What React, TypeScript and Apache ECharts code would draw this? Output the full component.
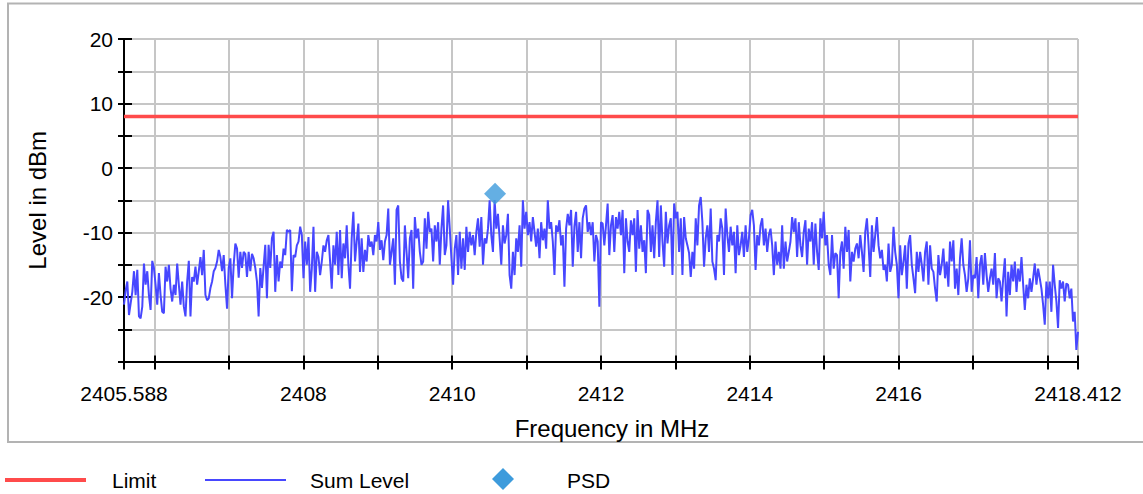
import React, { useEffect, useRef } from "react";
import * as echarts from "echarts";

const F_START = 2405.588;
const F_END = 2418.412;
const LIMIT_LEVEL = 8;
const PSD_FREQ = 2410.576;
const PSD_LEVEL = -4.0;

const xTickValues = [2405.588, 2406, 2407, 2408, 2409, 2410, 2411, 2412, 2413, 2414, 2415, 2416, 2417, 2418, 2418.412];
const xLabelValues = [2405.588, 2408, 2410, 2412, 2414, 2416, 2418.412];

const levelsA = [
  -21.2, -19, -17.6, -22.8, -21, -19.2, -16, -19.7, -15.8, -23,
  -23.3, -21.5, -14.8, -18.1, -16, -19.7, -22, -14.4, -15.5, -18.1,
  -21.2, -16.3, -19.7, -22.3, -22.5, -15.3, -17.6, -15, -18.7, -20.7,
  -18.1, -19.7, -14.8, -18.1, -21.2, -17.6, -21.5, -23, -17.6, -14.4,
  -23, -16.9, -17.6, -15.3, -18.1, -16, -13.8, -16.6, -12.7, -19.7,
  -20.5, -20.2, -18.6, -17.6, -16, -15.5, -14.5, -12.7, -13.8, -16,
  -13.5, -18.1, -21.8, -15.5, -14, -20.2, -15, -11.7, -12.5, -17,
  -13, -15.5, -13, -13.3, -16.9, -13, -16, -13.3, -14, -15.5,
  -17.6, -23, -15.5, -18.6, -15.3, -11.9, -20.2, -11.9, -15.5, -10.9,
  -9.9, -19.2, -13.5, -17.6, -14.5, -15.5,
];
const levelsB = [
  -12.5, -13.5, -9.6, -9.9, -9.6, -19.1, -13.5, -13.8, -12, -11.4,
  -9.1, -10.4, -17.1, -11.4, -15, -10.7, -19.2, -15.6, -9.1, -19.2,
  -13, -13.8, -16.6, -14.5, -12, -13, -11.2, -10.4, -14.5, -18.7,
  -12, -15, -9.9, -16.6, -9.6, -17.1, -11.7, -14, -8.9, -15,
  -18.7, -10.9, -6.8, -14.5, -11.4, -8.6, -16.1, -10.9, -16.1, -12.7,
  -14.5, -10.4, -12.2, -11.4, -13.5, -10.4, -11.4, -8.4, -12.7, -11.2,
  -14.3, -11.4, -10.4, -6.3, -15, -13, -10.9, -18.1, -6.5, -5.8,
  -14.5, -17.1, -17.6, -8.9, -13, -17.1, -10.9, -9.6, -18.7, -7.6,
  -10.9, -9.4, -13, -15, -14.5, -7.8, -12.5, -6.8, -9.9, -9.4,
  -14.5, -8.9, -11.4, -8.4, -15, -9.4,
];
const levelsC = [
  -5.8, -13.5, -12, -5, -9.4, -14, -18.1, -12.5, -10.4, -16.6,
  -9.9, -15.6, -10.9, -15.8, -9.1, -13, -9.9, -12, -10.4, -13.5,
  -9.9, -7.8, -12.2, -7.6, -15, -10.9, -11.7, -9.4, -5, -10.4,
  -13, -5, -9.4, -7.1, -10.9, -15, -8.9, -11.7, -10.4, -7.1,
  -16.6, -18.7, -13, -16.6, -10.9, -13, -8.9, -15.3, -5, -9.4,
  -6.8, -10.4, -8.4, -11.4, -7.6, -9.9, -12.2, -9.4, -14, -8.4,
  -11.2, -9.4, -12.5, -5, -9.4, -8.4, -11.4, -16.6, -8.9, -9.9,
  -8.1, -12, -10.4, -18.4, -9.4, -7.1, -8.9, -6.5, -15.3, -9.1,
  -6.8, -13, -8.4, -14, -7.8, -6.3, -5.8, -9.9, -8.4, -10.4,
  -8.4, -14.5, -10.4, -11.4, -21.5, -8.4,
];
const levelsD = [
  -8.6, -12, -8.9, -5.5, -13.5, -8.9, -7.3, -13, -7.6, -9.4,
  -6.8, -10.4, -6.5, -16.3, -7.8, -11.4, -13, -8.1, -10.4, -7.8,
  -16.1, -6.5, -12.5, -8.9, -13, -11.2, -16.3, -6.5, -7.3, -13,
  -8.9, -14, -8.4, -5, -13.8, -5.8, -11.4, -15.3, -6.8, -11.7,
  -8.9, -7.8, -16.6, -5.5, -7.8, -6.8, -13, -7.8, -16.6, -7.6,
  -10.9, -12, -13.2, -16.9, -13, -15.6, -7.8, -12, -5.8, -4.5,
  -8.4, -15.3, -10.9, -8.9, -13, -6.3, -14.5, -15.6, -17.4, -10.4,
  -11.4, -7.8, -9.4, -16.6, -6.3, -10.4, -13, -9.1, -12, -9.9,
  -16.3, -8.9, -13.5, -12, -9.9, -13.8, -8.9, -13, -10.9, -7.3,
  -6.5, -8.9, -15.8, -10.4, -12, -8.9,
];
const levelsE = [
  -7.8, -12, -9.4, -13, -10.4, -9.4, -12, -16.6, -11.4, -15,
  -13, -15.6, -8.9, -15.6, -11.4, -14.5, -13, -11.4, -7.6, -9.9,
  -7.8, -13.8, -8.4, -12, -13.8, -9.9, -8.1, -15, -9.4, -11.4,
  -8.4, -15, -8.6, -13, -15.8, -7.8, -10.9, -6.8, -12, -10.4,
  -15, -16.6, -10.4, -15.6, -13.2, -13.5, -20.2, -13, -11.4, -15.6,
  -9.1, -13, -9.6, -17.6, -13, -14.5, -12.5, -11.7, -14, -10.4,
  -13, -16.1, -9.9, -7.8, -12, -16.9, -8.9, -13, -10.4, -7.6,
  -12, -14, -12.7, -15.8, -15, -17.6, -11.7, -16.1, -15, -9.1,
  -13, -15, -20.2, -12, -16.6, -14.5, -12, -18.7, -11.7, -10.4,
  -15, -17.1, -19.4, -13, -16.1, -13,
];
const levelsF = [
  -15, -17.6, -13, -11.4, -18.1, -12, -15.6, -16.1, -18.7, -20.7,
  -13.5, -16.6, -15, -12.5, -17.1, -14.5, -18.4, -11.4, -14.5, -11.2,
  -18.7, -15.6, -19.7, -14, -10.9, -15, -16.6, -19.2, -17.1, -11.2,
  -19.2, -16.6, -17.1, -13.8, -20.2, -15, -13.5, -18.1, -13.2, -16.6,
  -19.2, -17.1, -15.6, -18.1, -13.2, -20.2, -17.1, -17.6, -20.7, -17.1,
  -14, -23, -16.1, -19.7, -15, -17.6, -14.5, -19.2, -15.6, -17.6,
  -13.8, -18.1, -22, -18.1, -20.2, -17.1, -19.2, -17.1, -14.8, -18.1,
  -15.6, -17.1, -18.7, -21.2, -24.3, -17.6, -20.2, -17.6, -22.3, -15,
  -18.1, -20.7, -24.8, -17.4, -18.7, -17.6, -20.7, -17.9, -18.1, -20.2,
  -18.7, -23.8, -22.3, -28.2, -25.4,
];

const sumLevels = [...levelsA, ...levelsB, ...levelsC, ...levelsD, ...levelsE, ...levelsF];

const FONT = "'Liberation Sans', Arial, Helvetica, sans-serif";
const RED = "#ff4b4b";
const BLUE = "#4747ff";
const DIAMOND = "#3d9bdc";

export default function App() {
  const ref = useRef<HTMLDivElement>(null);

  useEffect(() => {
    if (!ref.current) return;
    const chart = echarts.init(ref.current, undefined, { renderer: "svg" });
    const n = sumLevels.length;
    const step = (F_END - F_START) / (n - 1);
    const sumData = sumLevels.map((v, i) => [F_START + i * step, v]);
    const fmtX = (v: number) => String(Math.round(v * 1000) / 1000);

    const commonX = {
      type: "value",
      min: F_START,
      max: F_END,
      position: "bottom",
    };
    const commonY = {
      type: "value",
      min: -30,
      max: 20,
      interval: 5,
      position: "left",
    };

    chart.setOption({
      animation: false,
      textStyle: { fontFamily: FONT },
      grid: { left: 124, right: 65, top: 39, bottom: 132.5, containLabel: false },
      xAxis: [
        {
          ...commonX,
          name: "Frequency in MHz",
          nameLocation: "middle",
          nameGap: 55,
          nameTextStyle: { fontSize: 24, color: "#000", fontFamily: FONT, padding: [0, 0, 0, 22] },
          axisLine: { show: true, onZero: false, lineStyle: { color: "#000", width: 2 } },
          axisTick: { show: true, inside: true, length: 6, customValues: xTickValues, lineStyle: { color: "#000", width: 2 } },
          axisLabel: { show: true, customValues: xLabelValues, margin: 21, fontSize: 21, color: "#000", fontFamily: FONT, formatter: fmtX },
          splitLine: { show: true, lineStyle: { color: "#c6c6c6", width: 2 } },
        },
        {
          ...commonX,
          axisLine: { show: false, onZero: false },
          axisTick: { show: true, inside: false, length: 8, customValues: xTickValues, lineStyle: { color: "#000", width: 2 } },
          axisLabel: { show: false },
          splitLine: { show: false },
        },
      ],
      yAxis: [
        {
          ...commonY,
          name: "Level in dBm",
          nameLocation: "middle",
          nameGap: 75,
          nameTextStyle: { fontSize: 24, color: "#000", fontFamily: FONT },
          axisLine: { show: true, onZero: false, lineStyle: { color: "#000", width: 2 } },
          axisTick: { show: true, inside: true, length: 8, lineStyle: { color: "#000", width: 2 } },
          axisLabel: {
            show: true,
            margin: 11,
            fontSize: 21,
            color: "#000",
            fontFamily: FONT,
            formatter: (v: number) => (v % 10 === 0 && v !== -30 ? String(v) : ""),
          },
          splitLine: { show: true, lineStyle: { color: "#c6c6c6", width: 2 } },
        },
        {
          ...commonY,
          axisLine: { show: false, onZero: false },
          axisTick: { show: true, inside: false, length: 6, lineStyle: { color: "#000", width: 2 } },
          axisLabel: { show: false },
          splitLine: { show: false },
        },
      ],
      series: [
        {
          name: "Limit",
          type: "line",
          data: [
            [F_START, LIMIT_LEVEL],
            [F_END, LIMIT_LEVEL],
          ],
          showSymbol: false,
          lineStyle: { color: RED, width: 3.5 },
          itemStyle: { color: RED },
          z: 3,
        },
        {
          name: "Sum Level",
          type: "line",
          data: sumData,
          showSymbol: false,
          lineStyle: { color: BLUE, width: 2 },
          itemStyle: { color: BLUE },
          z: 4,
        },
        {
          name: "PSD",
          type: "scatter",
          data: [[PSD_FREQ, PSD_LEVEL]],
          symbol: "diamond",
          symbolSize: 22,
          itemStyle: { color: DIAMOND },
          z: 5,
        },
      ],
      graphic: [
        {
          type: "rect",
          shape: { x: 8, y: 3.5, width: 1160, height: 438.5 },
          style: { fill: "none", stroke: "#b3b3b3", lineWidth: 2 },
          silent: true,
          z: -10,
        },
        {
          type: "line",
          shape: { x1: 5, y1: 480, x2: 86, y2: 480 },
          style: { stroke: RED, lineWidth: 4 },
        },
        {
          type: "text",
          x: 112,
          y: 480,
          style: { text: "Limit", fontSize: 21, fontFamily: FONT, fill: "#000", verticalAlign: "middle", align: "left" },
        },
        {
          type: "line",
          shape: { x1: 205, y1: 480, x2: 286, y2: 480 },
          style: { stroke: BLUE, lineWidth: 2 },
        },
        {
          type: "text",
          x: 310,
          y: 480,
          style: { text: "Sum Level", fontSize: 21, fontFamily: FONT, fill: "#000", verticalAlign: "middle", align: "left" },
        },
        {
          type: "polygon",
          shape: { points: [[503, 468], [514, 479], [503, 490], [492, 479]] },
          style: { fill: DIAMOND },
        },
        {
          type: "text",
          x: 567,
          y: 480,
          style: { text: "PSD", fontSize: 21, fontFamily: FONT, fill: "#000", verticalAlign: "middle", align: "left" },
        },
      ],
    });

    return () => chart.dispose();
  }, []);

  return (
    <div
      ref={ref}
      style={{ position: "fixed", left: 0, top: 0, width: 1143, height: 494, background: "#fff" }}
    />
  );
}
